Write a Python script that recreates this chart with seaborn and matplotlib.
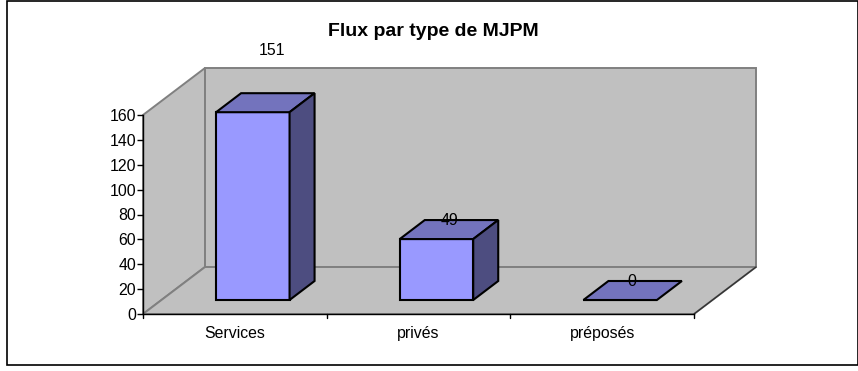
import matplotlib
matplotlib.use('Agg')
import matplotlib.pyplot as plt
import matplotlib.transforms as mtrans
from matplotlib.patches import Polygon, Rectangle
import pandas as pd
import seaborn as sns

categories = ['Services', 'privés', 'préposés']
values = [151, 49, 0]
y_ticks = [0, 20, 40, 60, 80, 100, 120, 140, 160]
title = 'Flux par type de MJPM'

W, H = 858, 371
WALL_DEPTH = (62, 47)   # floor depth in pixels
BAR_GAP = (18, 14)      # gap from the front edge to the bar
BAR_DEPTH = (25, 19)
# label shift from the bar's top front centre, in pixels
LABEL_SHIFT = [(19, 62), (13, 19), (12, 18)]

sns.set_style('white')
plt.rcParams['font.family'] = ['Liberation Sans', 'DejaVu Sans']
plt.rcParams['text.color'] = 'black'
plt.rcParams['xtick.labelcolor'] = 'black'
plt.rcParams['ytick.labelcolor'] = 'black'

df = pd.DataFrame({'type': categories, 'flux': values})

fig = plt.figure(figsize=(W / 100, H / 100), dpi=100)
ax = fig.add_axes([143 / W, (H - 314) / H, 551 / W, 199 / H])
ax.patch.set_visible(False)

sns.barplot(data=df, x='type', y='flux', order=categories, color='#9999FF',
            saturation=1, width=0.4, edgecolor='black', linewidth=1.5, ax=ax, zorder=3)
bars = list(ax.patches)
ax.set_xlim(-0.5, 2.5)
ax.set_ylim(0, 160)
px_tr = mtrans.IdentityTransform()


def shifted(dx, dy):
    return mtrans.offset_copy(ax.transData, fig=fig, x=dx, y=dy, units='dots')


def project(x, y, dx, dy):
    # data point moved back by a pixel offset, as display coords
    px, py = ax.transData.transform((x, y))
    return (px + dx, py + dy)


x0, x1 = ax.get_xlim()
y0, y1 = ax.get_ylim()
wd = WALL_DEPTH

# walls and floor
faces = [
    [project(x0, y0, 0, 0), project(x0, y1, 0, 0), project(x0, y1, *wd), project(x0, y0, *wd)],
    [project(x0, y0, *wd), project(x0, y1, *wd), project(x1, y1, *wd), project(x1, y0, *wd)],
    [project(x0, y0, 0, 0), project(x1, y0, 0, 0), project(x1, y0, *wd), project(x0, y0, *wd)],
]
for pts in faces:
    ax.add_patch(Polygon(pts, closed=True, facecolor='#C0C0C0', edgecolor='#808080', linewidth=1.4,
                         transform=px_tr, clip_on=False, zorder=0))
ax.plot([project(x1, y0, 0, 0)[0], project(x1, y0, *wd)[0]],
        [project(x1, y0, 0, 0)[1], project(x1, y0, *wd)[1]],
        color='#333333', lw=1, transform=px_tr, clip_on=False, zorder=1)

# bars: front face comes from seaborn, top and side faces follow it
gx, gy = BAR_GAP
bx, by = BAR_DEPTH
for bar, shift in zip(bars, LABEL_SHIFT):
    bar.set_transform(shifted(gx, gy))
    bar.set_clip_on(False)
    left, right = bar.get_x(), bar.get_x() + bar.get_width()
    v = bar.get_height()
    top = [project(left, v, gx, gy), project(right, v, gx, gy),
           project(right, v, gx + bx, gy + by), project(left, v, gx + bx, gy + by)]
    ax.add_patch(Polygon(top, closed=True, facecolor='#7373BD', edgecolor='black', linewidth=1.5,
                         transform=px_tr, clip_on=False, zorder=3))
    if v > 0:
        side = [project(right, 0, gx, gy), project(right, v, gx, gy),
                project(right, v, gx + bx, gy + by), project(right, 0, gx + bx, gy + by)]
        ax.add_patch(Polygon(side, closed=True, facecolor='#4D4D80', edgecolor='black', linewidth=1.5,
                             transform=px_tr, clip_on=False, zorder=3))
    px, py = project((left + right) / 2, v, gx + shift[0], gy + shift[1])
    ax.text(px, py, str(int(v)), transform=px_tr, ha='center', va='center',
            fontsize=11.4, color='black', clip_on=False, zorder=5)

# axes
for s in ['top', 'right']:
    ax.spines[s].set_visible(False)
for s in ['left', 'bottom']:
    ax.spines[s].set_color('black')
    ax.spines[s].set_linewidth(1)
    ax.spines[s].set_zorder(4)
ax.set_xlabel('')
ax.set_ylabel('')
ax.set_yticks(y_ticks)
ax.set_xticks([0, 1, 2])
ax.set_xticklabels(categories)
ax.tick_params(axis='y', left=True, length=4, width=1, color='black', pad=1, labelsize=11.4)
ax.tick_params(axis='x', bottom=False, pad=5, labelsize=11.4)
for xb in [-0.5, 0.5, 1.5, 2.5]:
    ax.plot([xb, xb], [0, -3.2], color='black', lw=1, clip_on=False, zorder=4)
ax.set_xlim(x0, x1)
ax.set_ylim(y0, y1)

fig.text(433 / W, (H - 31.5) / H, title, ha='center', va='center', fontsize=14, fontweight='bold',
         color='black')

# chart frame
fig.add_artist(Rectangle((6.5 / W, (H - 364.5) / H), 851 / W, 364 / H, transform=fig.transFigure,
                         facecolor='none', edgecolor='black', linewidth=1.2))

fig.savefig('out.png', dpi=100)
